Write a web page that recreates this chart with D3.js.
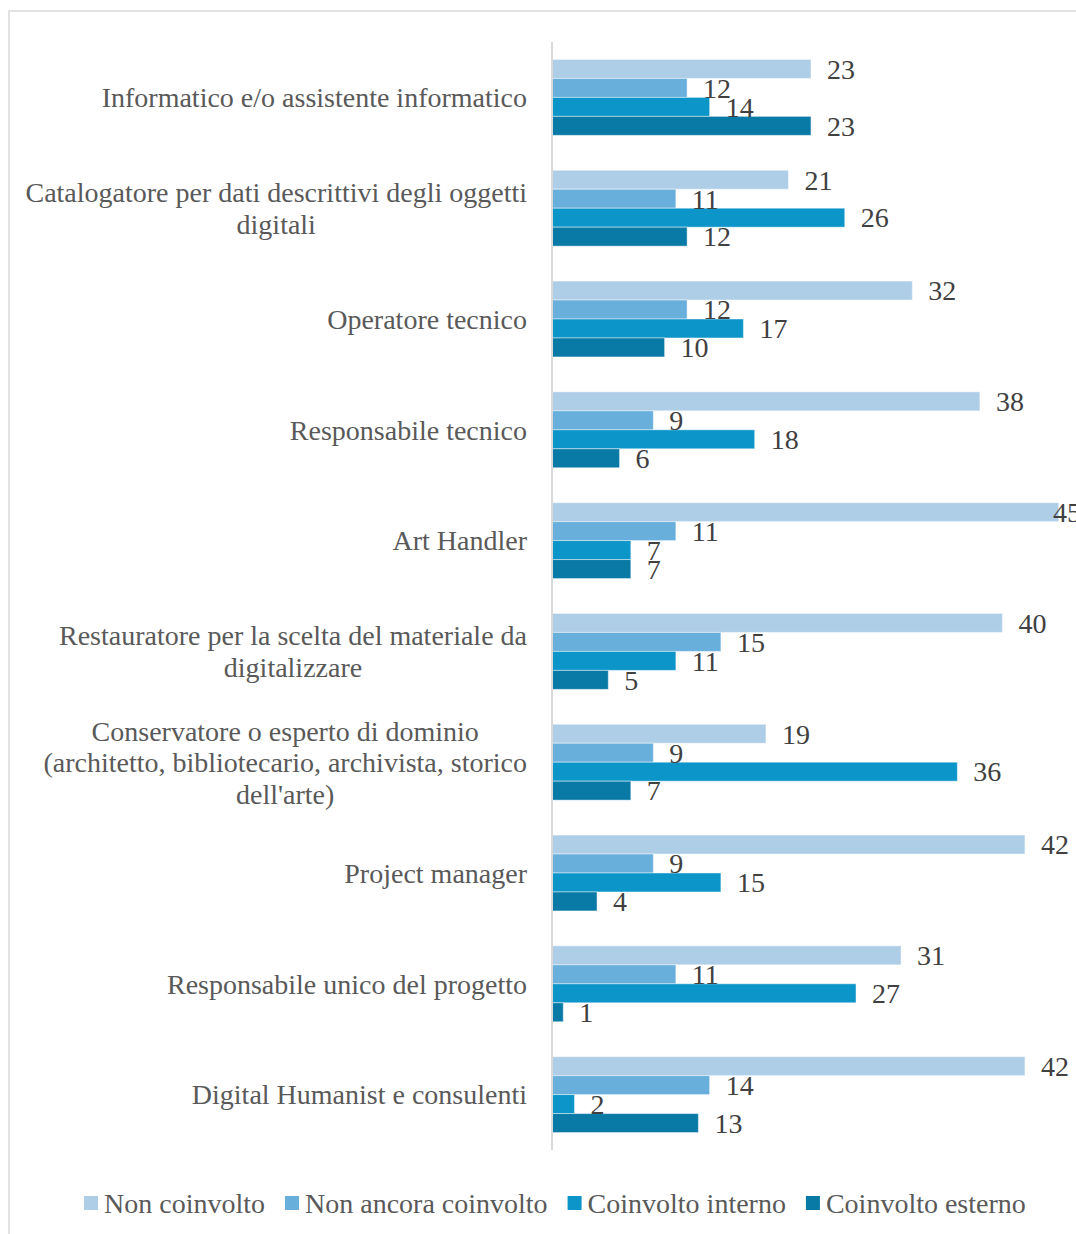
<!DOCTYPE html>
<html>
<head>
<meta charset="utf-8">
<script src="https://cdn.jsdelivr.net/npm/d3@7/dist/d3.min.js"></script>
<style>
  html, body { margin: 0; padding: 0; background: #fff; }
  svg { display: block; }
  text { font-family: "Liberation Serif", "Times New Roman", serif; }
</style>
</head>
<body>
<svg id="chart" width="1076" height="1234"></svg>
<script>
// Roles (top to bottom)
const categories = [
  "Informatico e/o assistente informatico",
  "Catalogatore per dati descrittivi degli oggetti digitali",
  "Operatore tecnico",
  "Responsabile tecnico",
  "Art Handler",
  "Restauratore per la scelta del materiale da digitalizzare",
  "Conservatore o esperto di dominio (architetto, bibliotecario, archivista, storico dell'arte)",
  "Project manager",
  "Responsabile unico del progetto",
  "Digital Humanist e consulenti"
];

const seriesNames = ["Non coinvolto", "Non ancora coinvolto", "Coinvolto interno", "Coinvolto esterno"];

const nonCoinvolto       = [23, 21, 32, 38, 45, 40, 19, 42, 31, 42];
const nonAncoraCoinvolto = [12, 11, 12,  9, 11, 15,  9,  9, 11, 14];
const coinvoltoInterno   = [14, 26, 17, 18,  7, 11, 36, 15, 27,  2];
const coinvoltoEsterno   = [23, 12, 10,  6,  7,  5,  7,  4,  1, 13];

const seriesValues = [nonCoinvolto, nonAncoraCoinvolto, coinvoltoInterno, coinvoltoEsterno];
const colors = ["#AECEE8", "#68AFDC", "#0C95C8", "#0979A6"];

const svg = d3.select("#chart");
const W = 1076, H = 1234;

// chart frame
svg.append("rect")
  .attr("x", 9).attr("y", 11)
  .attr("width", W + 20).attr("height", H + 20)
  .attr("fill", "none").attr("stroke", "#d9d9d9").attr("stroke-width", 1.5);

const x = d3.scaleLinear().domain([0, 50]).range([552, 552 + 563]);
const y = d3.scaleBand().domain(categories).range([42, 1150])
  .paddingInner(0.315).paddingOuter(0.1575);
const ySub = d3.scaleBand().domain(seriesNames).range([0, y.bandwidth()]);

const fs = 28;

const rows = categories.map((c, i) => ({
  category: c,
  values: seriesNames.map((s, k) => ({ series: s, k, value: seriesValues[k][i] }))
}));

const groups = svg.append("g").selectAll("g.row")
  .data(rows).join("g")
  .attr("class", "row")
  .attr("transform", d => `translate(0,${y(d.category)})`);

groups.selectAll("rect")
  .data(d => d.values).join("rect")
  .attr("x", x(0))
  .attr("y", d => ySub(d.series))
  .attr("width", d => x(d.value) - x(0))
  .attr("height", ySub.bandwidth())
  .attr("fill", d => colors[d.k])
  .attr("stroke", "#ffffff").attr("stroke-opacity", 0.45).attr("stroke-width", 1);

groups.selectAll("text.val")
  .data(d => d.values).join("text")
  .attr("class", "val")
  .attr("x", d => Math.min(x(d.value) + 16, 1053))
  .attr("y", d => ySub(d.series) + ySub.bandwidth() / 2)
  .attr("dy", "0.35em")
  .attr("font-size", fs)
  .attr("fill", "#404040")
  .text(d => d.value);

// vertical category axis line
svg.append("line")
  .attr("x1", x(0)).attr("x2", x(0))
  .attr("y1", 42).attr("y2", 1150)
  .attr("stroke", "#d9d9d9").attr("stroke-width", 2);

// category labels, wrapped and centred as a block right-aligned to the axis
const labelRight = 527, maxW = 505, lineH = 31.5;
const measure = svg.append("text").attr("font-size", fs).attr("visibility", "hidden");
function widthOf(s) { measure.text(s); return measure.node().getComputedTextLength(); }

categories.forEach(c => {
  const words = c.split(" ");
  const lines = [];
  let cur = "";
  words.forEach(w => {
    const t = cur ? cur + " " + w : w;
    if (cur && widthOf(t) > maxW) { lines.push(cur); cur = w; } else cur = t;
  });
  if (cur) lines.push(cur);
  const blockW = d3.max(lines, widthOf);
  const cx = labelRight - blockW / 2;
  const cy = y(c) + y.bandwidth() / 2;
  const t = svg.append("text")
    .attr("font-size", fs).attr("fill", "#595959")
    .attr("text-anchor", "middle");
  lines.forEach((ln, i) => {
    t.append("tspan")
      .attr("x", cx)
      .attr("y", cy + (i - (lines.length - 1) / 2) * lineH)
      .attr("dy", "0.35em")
      .text(ln);
  });
});
measure.remove();

// legend
const legend = svg.append("g");
let lx = 84;
seriesNames.forEach((s, k) => {
  legend.append("rect")
    .attr("x", lx).attr("y", 1196).attr("width", 14).attr("height", 14)
    .attr("fill", colors[k]);
  const t = legend.append("text")
    .attr("x", lx + 20).attr("y", 1203).attr("dy", "0.35em")
    .attr("font-size", fs).attr("fill", "#595959")
    .text(s);
  lx += 20 + t.node().getComputedTextLength() + 20;
});
</script>
</body>
</html>
